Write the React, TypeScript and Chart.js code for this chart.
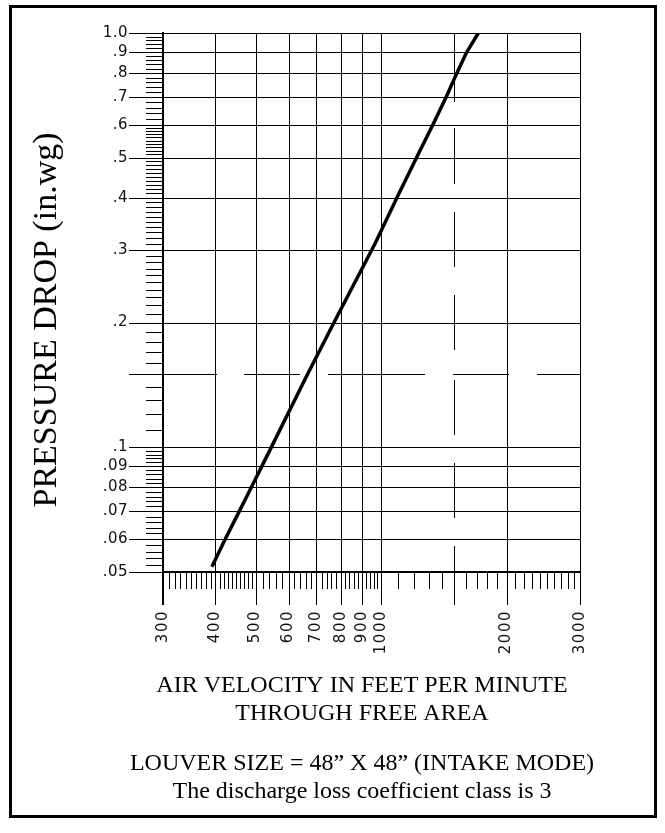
import { useEffect, useRef } from "react";
import { Chart, registerables } from "chart.js";

Chart.register(...registerables);

// ---- data ----
const velocity = [393, 422, 452, 487, 517, 545, 664, 779, 967, 1104, 1222, 1334, 1432, 1518, 1601, 1711];
const pressure = [0.0515, 0.0597, 0.0685, 0.0795, 0.0897, 0.0998, 0.149, 0.204, 0.31, 0.41, 0.505, 0.603, 0.7, 0.798, 0.895, 1.0];

const xMajorTicks = [300, 400, 500, 600, 700, 800, 900, 1000, 2000, 3000];
const xMajorLabels = ["300", "400", "500", "600", "700", "800", "900", "1000", "2000", "3000"];
const xDashedTick = 1500;
const xMinorTicks = [
  310, 320, 330, 340, 350, 360, 370, 380, 390,
  410, 420, 430, 440, 450, 460, 470, 480, 490,
  520, 540, 560, 580, 620, 640, 660, 680, 720, 740, 760, 780,
  820, 840, 860, 880, 920, 940, 960, 980,
  1100, 1200, 1300, 1400, 1600, 1700, 1800, 1900,
  2100, 2200, 2300, 2400, 2500, 2600, 2700, 2800, 2900,
];

const yMajorTicks = [0.05, 0.06, 0.07, 0.08, 0.09, 0.1, 0.2, 0.3, 0.4, 0.5, 0.6, 0.7, 0.8, 0.9, 1.0];
const yMajorLabels = [".05", ".06", ".07", ".08", ".09", ".1", ".2", ".3", ".4", ".5", ".6", ".7", ".8", ".9", "1.0"];
const yDashedTick = 0.15;
const yMinorTicks = [
  0.052, 0.054, 0.056, 0.058, 0.062, 0.064, 0.066, 0.068, 0.072, 0.074, 0.076, 0.078,
  0.082, 0.084, 0.086, 0.088, 0.092, 0.094, 0.096, 0.098,
  0.11, 0.12, 0.13, 0.14, 0.16, 0.17, 0.18, 0.19,
  0.21, 0.22, 0.23, 0.24, 0.25, 0.26, 0.27, 0.28, 0.29,
  0.31, 0.32, 0.33, 0.34, 0.35, 0.36, 0.37, 0.38, 0.39,
  0.41, 0.42, 0.43, 0.44, 0.45, 0.46, 0.47, 0.48, 0.49,
  0.51, 0.52, 0.53, 0.54, 0.55, 0.56, 0.57, 0.58, 0.59,
  0.62, 0.64, 0.66, 0.68, 0.72, 0.74, 0.76, 0.78,
  0.82, 0.84, 0.86, 0.88, 0.92, 0.94, 0.96, 0.98,
];

const yTitle = "PRESSURE DROP (in.wg)";
const xTitleLines = ["AIR VELOCITY IN FEET PER MINUTE", "THROUGH FREE AREA"];
const noteLines = ["LOUVER SIZE = 48\u201D X 48\u201D (INTAKE MODE)", "The discharge loss coefficient class is 3"];

const W = 665;
const H = 833;

const decorPlugin = {
  id: "decor",
  beforeDatasetsDraw(chart: any) {
    const ctx = chart.ctx as CanvasRenderingContext2D;
    const xs = chart.scales.x;
    const ys = chart.scales.y;
    const { left, right, top, bottom } = chart.chartArea;
    const crisp = (v: number) => Math.round(v) + 0.5;
    ctx.save();
    ctx.strokeStyle = "#000";
    ctx.fillStyle = "#000";

    // outer frame
    ctx.lineWidth = 3;
    ctx.strokeRect(10.5, 6.5, 645, 810);

    // minor ticks
    ctx.lineWidth = 1;
    ctx.beginPath();
    for (const v of xMinorTicks) {
      const px = crisp(xs.getPixelForValue(v));
      ctx.moveTo(px, bottom);
      ctx.lineTo(px, bottom + 17);
    }
    for (const v of yMinorTicks) {
      const py = crisp(ys.getPixelForValue(v));
      ctx.moveTo(left - 17, py);
      ctx.lineTo(left, py);
    }
    ctx.stroke();

    // major grid lines
    ctx.beginPath();
    for (const v of xMajorTicks) {
      const px = crisp(xs.getPixelForValue(v));
      ctx.moveTo(px, top);
      ctx.lineTo(px, bottom + 33);
    }
    for (const v of yMajorTicks) {
      const py = crisp(ys.getPixelForValue(v));
      ctx.moveTo(left - 34, py);
      ctx.lineTo(right, py);
    }
    ctx.stroke();

    // dashed lines
    const dx = crisp(xs.getPixelForValue(xDashedTick));
    ctx.setLineDash([69, 26, 56, 28, 55, 28, 55, 30, 55, 28, 55, 28, 59]);
    ctx.beginPath();
    ctx.moveTo(dx, top);
    ctx.lineTo(dx, bottom + 33);
    ctx.stroke();
    const dy = crisp(ys.getPixelForValue(yDashedTick));
    ctx.setLineDash([88, 27, 56, 28, 97, 28, 56, 28, 100]);
    ctx.beginPath();
    ctx.moveTo(left - 34, dy);
    ctx.lineTo(right, dy);
    ctx.stroke();
    ctx.setLineDash([]);

    // heavier axes
    ctx.lineWidth = 2;
    ctx.beginPath();
    ctx.moveTo(Math.round(left), top - 1);
    ctx.lineTo(Math.round(left), bottom + 33);
    ctx.moveTo(left - 1, Math.round(bottom));
    ctx.lineTo(right + 1, Math.round(bottom));
    ctx.stroke();

    // y tick labels
    ctx.fillStyle = "#111";
    ctx.font = "15px 'DejaVu Sans'";
    (ctx as any).letterSpacing = "0.5px";
    ctx.textAlign = "right";
    ctx.textBaseline = "middle";
    yMajorTicks.forEach((v, i) => {
      ctx.fillText(yMajorLabels[i], left - 35, ys.getPixelForValue(v));
    });

    // x tick labels (rotated)
    (ctx as any).letterSpacing = "1.5px";
    xMajorTicks.forEach((v, i) => {
      const px = xs.getPixelForValue(v);
      ctx.save();
      ctx.translate(px, bottom + 38);
      ctx.rotate(-Math.PI / 2);
      ctx.textAlign = "right";
      ctx.textBaseline = "middle";
      ctx.fillText(xMajorLabels[i], 0, 0);
      ctx.restore();
    });
    (ctx as any).letterSpacing = "0px";
    ctx.fillStyle = "#000";

    // y title
    ctx.save();
    ctx.font = "34px 'Liberation Serif'";
    ctx.translate(56, 320);
    ctx.rotate(-Math.PI / 2);
    ctx.textAlign = "center";
    ctx.textBaseline = "alphabetic";
    ctx.fillText(yTitle, 0, 0);
    ctx.restore();

    // bottom texts
    ctx.font = "24px 'Liberation Serif'";
    ctx.textAlign = "center";
    ctx.textBaseline = "alphabetic";
    const cx = 362;
    ctx.fillText(xTitleLines[0], cx, 692);
    ctx.fillText(xTitleLines[1], cx, 720);
    ctx.fillText(noteLines[0], cx, 770);
    ctx.fillText(noteLines[1], cx, 798);

    ctx.restore();
  },
};

export default function App() {
  const ref = useRef<HTMLCanvasElement>(null);
  useEffect(() => {
    if (!ref.current) return;
    const chart = new Chart(ref.current, {
      type: "scatter",
      data: {
        datasets: [
          {
            data: velocity.map((v, i) => ({ x: v, y: pressure[i] })),
            showLine: true,
            borderColor: "#000",
            borderWidth: 3.5,
            pointRadius: 0,
            tension: 0,
          },
        ],
      },
      options: {
        animation: false,
        responsive: false,
        devicePixelRatio: 1,
        layout: { padding: { left: 163, top: 33, right: W - 580, bottom: H - 572 } },
        scales: {
          x: { type: "logarithmic", min: 300, max: 3000, display: false },
          y: { type: "logarithmic", min: 0.05, max: 1, display: false },
        },
        plugins: { legend: { display: false }, tooltip: { enabled: false } },
      },
      plugins: [decorPlugin],
    });
    return () => chart.destroy();
  }, []);
  return (
    <div style={{ position: "absolute", left: 0, top: 0, width: W, height: H, background: "#fff" }}>
      <canvas ref={ref} width={W} height={H} style={{ display: "block" }} />
    </div>
  );
}
